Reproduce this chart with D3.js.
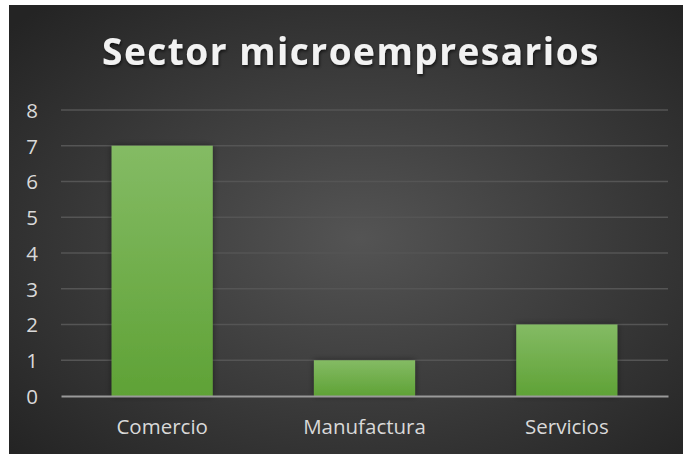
<!DOCTYPE html>
<html>
<head>
<meta charset="utf-8">
<script src="https://cdn.jsdelivr.net/npm/d3@7/dist/d3.min.js"></script>
<style>
  html, body { margin: 0; padding: 0; background: #ffffff; }
  svg { display: block; }
</style>
</head>
<body>
<svg id="chart" width="683" height="454"></svg>
<script>
// Chart data
const categories = ["Comercio", "Manufactura", "Servicios"];
const values = [7, 1, 2];
const yTicks = [0, 1, 2, 3, 4, 5, 6, 7, 8];
const chartTitle = "Sector microempresarios";

const svg = d3.select("#chart");
const W = 683, H = 454;
const frame = { x: 9, y: 5, w: W - 9, h: H - 5 };
const plot = { left: 61, right: 668, top: 110, bottom: 396 };

const defs = svg.append("defs");

// Dark radial background
const bg = defs.append("radialGradient").attr("id", "bgGrad")
  .attr("cx", "52%").attr("cy", "52%").attr("r", "70%");
bg.append("stop").attr("offset", "0%").attr("stop-color", "#545454");
bg.append("stop").attr("offset", "100%").attr("stop-color", "#242424");

// Bar fill gradient
const barGrad = defs.append("linearGradient").attr("id", "barGrad")
  .attr("x1", 0).attr("y1", 0).attr("x2", 0).attr("y2", 1);
barGrad.append("stop").attr("offset", "0%").attr("stop-color", "#84bb64");
barGrad.append("stop").attr("offset", "100%").attr("stop-color", "#5fa236");

// Soft bar shadow
const shadow = defs.append("filter").attr("id", "barShadow")
  .attr("x", "-20%").attr("y", "-20%").attr("width", "140%").attr("height", "140%");
shadow.append("feDropShadow").attr("dx", 0).attr("dy", 0)
  .attr("stdDeviation", 3).attr("flood-color", "#000").attr("flood-opacity", 0.45);

// Title shadow
const tShadow = defs.append("filter").attr("id", "titleShadow")
  .attr("x", "-10%").attr("y", "-30%").attr("width", "120%").attr("height", "160%");
tShadow.append("feDropShadow").attr("dx", 1).attr("dy", 2)
  .attr("stdDeviation", 1.5).attr("flood-color", "#000").attr("flood-opacity", 0.6);

svg.append("rect")
  .attr("x", frame.x).attr("y", frame.y)
  .attr("width", frame.w).attr("height", frame.h)
  .attr("fill", "url(#bgGrad)");

const x = d3.scaleBand()
  .domain(categories)
  .range([plot.left, plot.right])
  .paddingInner(0.5)
  .paddingOuter(0.25);

const y = d3.scaleLinear()
  .domain([0, 8])
  .range([plot.bottom, plot.top]);

// Horizontal gridlines
svg.append("g")
  .selectAll("line")
  .data(yTicks.filter(d => d > 0))
  .join("line")
  .attr("x1", plot.left).attr("x2", plot.right)
  .attr("y1", d => y(d)).attr("y2", d => y(d))
  .attr("stroke", "#555555")
  .attr("stroke-width", 1.5);

// Bars
svg.append("g")
  .selectAll("rect")
  .data(values)
  .join("rect")
  .attr("x", (d, i) => x(categories[i]))
  .attr("y", d => y(d))
  .attr("width", x.bandwidth())
  .attr("height", d => y(0) - y(d))
  .attr("fill", "url(#barGrad)")
  .attr("filter", "url(#barShadow)");

// Baseline axis
const xAxis = d3.axisBottom(x).tickSize(0).tickPadding(0);
const gx = svg.append("g")
  .attr("transform", `translate(0,${plot.bottom})`)
  .call(xAxis);
gx.select(".domain").attr("stroke", "#9a9a9a").attr("stroke-width", 2.2);
gx.selectAll("text")
  .attr("dy", null)
  .attr("y", 38)
  .attr("fill", "#d9d9d9")
  .attr("font-family", "'Open Sans', sans-serif")
  .attr("font-size", 20.5);

// Y axis labels
const yAxis = d3.axisLeft(y).tickValues(yTicks).tickSize(0).tickPadding(0);
const gy = svg.append("g")
  .attr("transform", `translate(${plot.left},0)`)
  .call(yAxis);
gy.select(".domain").remove();
gy.selectAll("text")
  .attr("x", -29)
  .attr("text-anchor", "middle")
  .attr("dy", "0.36em")
  .attr("fill", "#d9d9d9")
  .attr("font-family", "'Open Sans', sans-serif")
  .attr("font-size", 20.5);

// Title
svg.append("text")
  .attr("x", 351)
  .attr("y", 65)
  .attr("text-anchor", "middle")
  .attr("fill", "#f2f2f2")
  .attr("font-family", "'Open Sans', sans-serif")
  .attr("font-weight", "bold")
  .attr("font-size", 37)
  .attr("letter-spacing", 1.5)
  .attr("filter", "url(#titleShadow)")
  .text(chartTitle);
</script>
</body>
</html>
